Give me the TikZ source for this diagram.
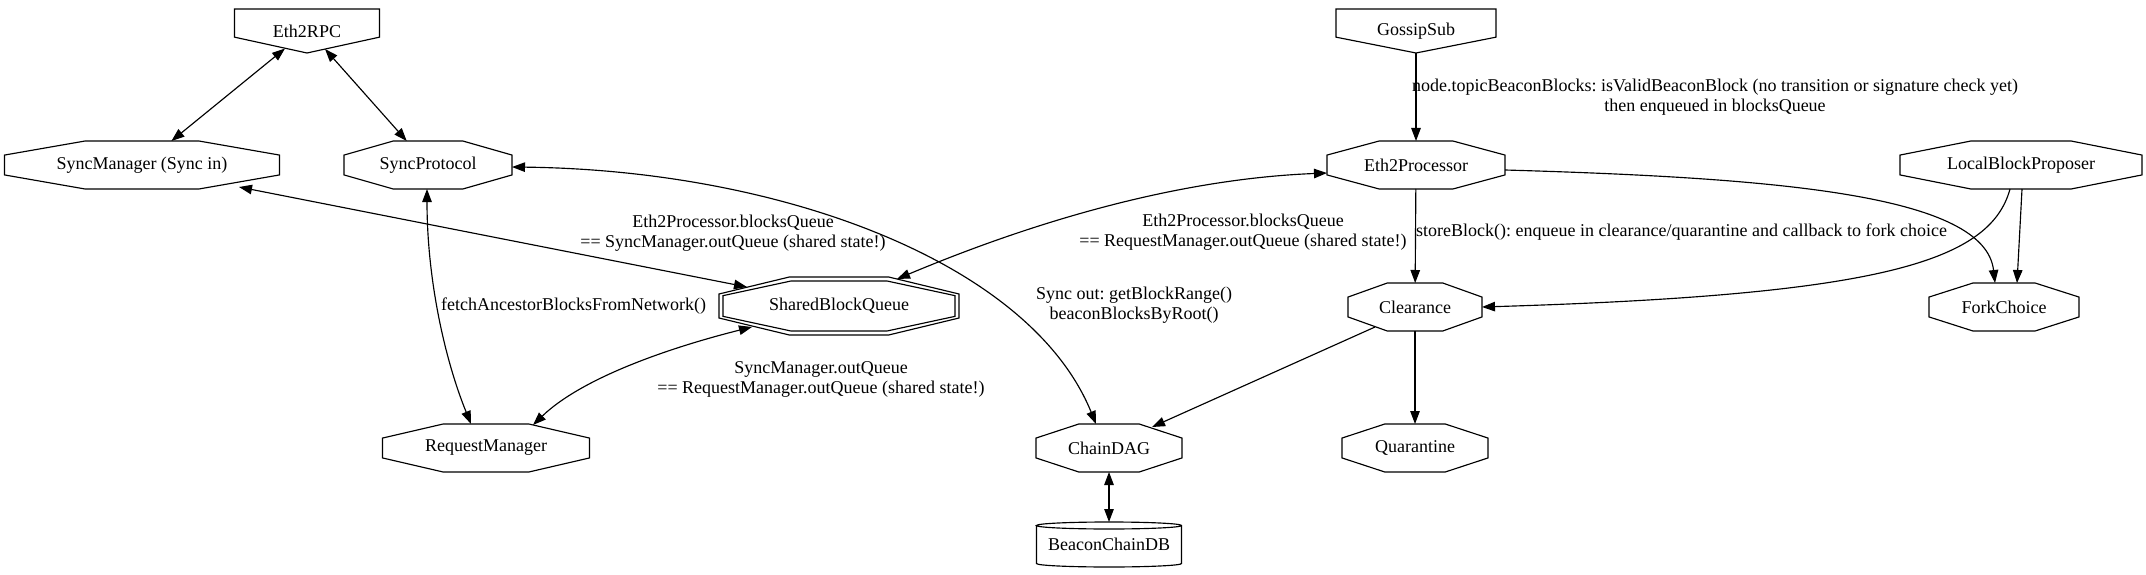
\documentclass[tikz,border=0pt]{standalone}
\usepackage{fontspec}
\setmainfont{Liberation Serif}
\usepackage{tikz}
\usetikzlibrary{positioning,arrows.meta,calc}
\frenchspacing

% stretched octagon drawn over a (hidden) rectangle node; #1 = inset
\newcommand{\octagon}[2][0pt]{%
  \coordinate (oNE) at ([xshift=-#1,yshift=-#1]#2.north east);
  \coordinate (oNW) at ([xshift=#1,yshift=-#1]#2.north west);
  \coordinate (oSE) at ([xshift=-#1,yshift=#1]#2.south east);
  \coordinate (oSW) at ([xshift=#1,yshift=#1]#2.south west);
  \draw[shapeline] ($(oNW)!0.293!(oNE)$) -- ($(oNW)!0.707!(oNE)$)
    -- ($(oNE)!0.293!(oSE)$) -- ($(oNE)!0.707!(oSE)$)
    -- ($(oSE)!0.293!(oSW)$) -- ($(oSE)!0.707!(oSW)$)
    -- ($(oSW)!0.293!(oNW)$) -- ($(oSW)!0.707!(oNW)$) -- cycle;
}
% inverted house (entry points)
\newcommand{\invhouse}[1]{%
  \draw[shapeline] (#1.north west) -- (#1.north east)
    -- ($(#1.north east)!0.64!(#1.south east)$) -- (#1.south)
    -- ($(#1.north west)!0.64!(#1.south west)$) -- cycle;
}

\begin{document}
\begin{tikzpicture}[
  x=1pt, y=-1pt,
  font=\fontsize{18}{20}\selectfont,
  octnode/.style={
    minimum height=48pt, inner sep=0pt, outer sep=0pt,
  },
  shapeline/.style={draw=black, line width=1.15pt},
  flow/.style={->, line width=1.15pt, >={Triangle[length=13pt,width=9.5pt]}},
  duplex/.style={<->, line width=1.15pt, >={Triangle[length=13pt,width=9.5pt]}},
  lbl/.style={align=center, inner sep=0pt},
]
\useasboundingbox (0,0) rectangle (2146,575);

% Entry points
\node[octnode, minimum width=145pt, minimum height=44pt] (rpc)    at (307,31)  {Eth2RPC};
\node[octnode, minimum width=160pt, minimum height=44pt] (gossip) at (1416,31) {GossipSub};

% Sync side
\node[octnode, minimum width=275pt] (syncmgr)   at (142,165) {SyncManager (Sync in)};
\node[octnode, minimum width=168pt] (syncproto) at (428,165) {SyncProtocol};
\node[octnode, minimum width=240pt, minimum height=58pt] (sharedq) at (839,306) {SharedBlockQueue};
\node[octnode, minimum width=207pt] (reqmgr)    at (486,448) {RequestManager};

% Processing side
\node[octnode, minimum width=178pt] (processor)  at (1416,165) {Eth2Processor};
\node[octnode, minimum width=242pt] (proposer)   at (2021,165) {LocalBlockProposer};
\node[octnode, minimum width=134pt] (clearance)  at (1415,307) {Clearance};
\node[octnode, minimum width=150pt] (forkchoice) at (2004,307) {ForkChoice};
\node[octnode, minimum width=146pt] (chaindag)   at (1109,448) {ChainDAG};
\node[octnode, minimum width=146pt] (quarantine) at (1415,448) {Quarantine};
\node[octnode, minimum width=145pt, minimum height=38pt] (beacondb) at (1109,544.5) {BeaconChainDB};

% Outlines
\invhouse{rpc}
\invhouse{gossip}
\foreach \n in {syncmgr,syncproto,sharedq,reqmgr,processor,proposer,clearance,forkchoice,chaindag,quarantine}
  \octagon{\n};
\octagon[4pt]{sharedq}
\draw[shapeline] (beacondb.north west) -- (beacondb.south west)
  arc[start angle=180, end angle=360, x radius=72.5pt, y radius=3.5pt]
  -- (beacondb.north east)
  arc[start angle=0, end angle=180, x radius=72.5pt, y radius=3.5pt]
  arc[start angle=180, end angle=360, x radius=72.5pt, y radius=3.5pt];

% Sync connections
\draw[duplex] ([xshift=-22pt,yshift=4.5pt]rpc.south) -- (syncmgr);
\draw[duplex] ([xshift=18pt,yshift=4pt]rpc.south) -- (syncproto);
\draw[duplex] ([xshift=97pt,yshift=-22pt]syncmgr.center) -- ([xshift=-92pt,yshift=19pt]sharedq.center);
\draw[duplex] ([xshift=-1pt]syncproto.south) .. controls (427,280) and (445,360) .. ([xshift=-15pt]reqmgr.north);
\draw[duplex] ([xshift=-87pt,yshift=-21pt]sharedq.center) .. controls (680,345) and (585,375) .. ([xshift=47pt,yshift=-1pt]reqmgr.north);
\draw[duplex] ([yshift=-2pt]syncproto.east) .. controls (780,170) and (1030,262) .. ([xshift=-13pt]chaindag.north);
\draw[duplex] ([xshift=58pt,yshift=-2pt]sharedq.north) .. controls (990,240) and (1150,180) .. ([yshift=-8pt]processor.west);

% Block processing
\draw[flow] (gossip.south) -- (processor);
\draw[flow] (processor) -- (clearance);
\draw[flow] ([yshift=-5pt]processor.east) .. controls (1780,178) and (1985,195) .. ([xshift=-9pt]forkchoice.north);
\draw[flow] ([xshift=-11pt]proposer.south) .. controls (1990,262) and (1880,295) .. (clearance.east);
\draw[flow] ([xshift=1pt]proposer.south) -- ([xshift=13pt]forkchoice.north);
\draw[flow] ([xshift=-40pt,yshift=-20pt]clearance.center) -- ([xshift=43pt,yshift=21pt]chaindag.center);
\draw[flow] (clearance) -- (quarantine);
\draw[duplex] (chaindag.south) -- ([yshift=3.5pt]beacondb.north);

% Edge labels
\node[lbl] (lblSyncQ)  at (733,233)  {Eth2Processor.blocksQueue\\== SyncManager.outQueue (shared state!)};
\node[lbl, anchor=west] (lblFetch) at (441,306) {fetchAncestorBlocksFromNetwork()};
\node[lbl] (lblReqQ)   at (821,379)  {SyncManager.outQueue\\== RequestManager.outQueue (shared state!)};
\node[lbl] (lblSyncOut) at (1134,305) {Sync out: getBlockRange()\\beaconBlocksByRoot()};
\node[lbl] (lblProcQ)  at (1243,232) {Eth2Processor.blocksQueue\\== RequestManager.outQueue (shared state!)};
\node[lbl] (lblGossip) at (1715,97)  {node.topicBeaconBlocks: isValidBeaconBlock (no transition or signature check yet)\\then enqueued in blocksQueue};
\node[lbl, anchor=west] (lblStore) at (1416,232) {storeBlock(): enqueue in clearance/quarantine and callback to fork choice};

\end{tikzpicture}
\end{document}
